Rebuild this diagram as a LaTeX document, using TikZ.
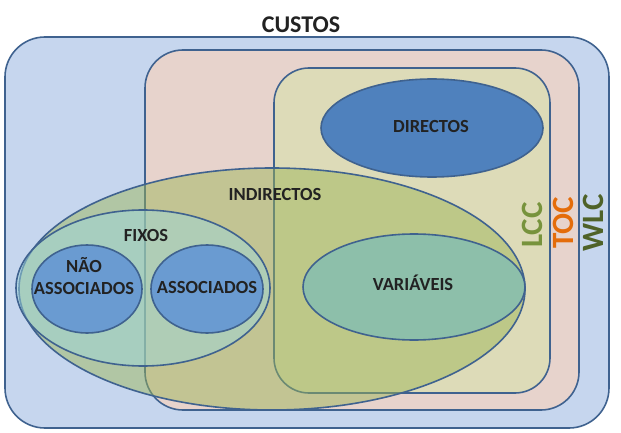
\documentclass[tikz,border=0pt]{standalone}
\usepackage{fontspec}
\setmainfont{Carlito}
\usetikzlibrary{shapes.geometric}

\definecolor{edge}{HTML}{3F628F}
\definecolor{wlcfill}{HTML}{C6D6EE}
\definecolor{tocfill}{HTML}{E7D3CC}
\definecolor{lccfill}{HTML}{DDDBB8}
\definecolor{dirfill}{HTML}{4F81BD}
\definecolor{indfill}{HTML}{9BB555}
\definecolor{fixfill}{HTML}{9ED6DA}
\definecolor{assfill}{HTML}{6A9BD1}
\definecolor{varfill}{HTML}{8DBFAA}
\definecolor{lcctext}{HTML}{77933C}
\definecolor{toctext}{HTML}{E46C0A}
\definecolor{wlctext}{HTML}{4F6228}
\definecolor{txt}{HTML}{222222}

\begin{document}
\begin{tikzpicture}[
    x=1pt, y=-1pt,
    zone/.style={rectangle, draw=edge, line width=1.6pt, inner sep=0pt},
    blob/.style={ellipse, draw=edge, line width=1.6pt, inner sep=0pt},
    lbl/.style={anchor=base, align=center, text=txt,
                font=\bfseries\fontsize{18.5}{22}\selectfont},
    side/.style={rotate=90, font=\bfseries\fontsize{31}{31}\selectfont}
]
    \useasboundingbox (0,0) rectangle (621,433);

    % nested cost scopes
    \node[zone, rounded corners=40pt, fill=wlcfill, minimum width=604pt, minimum height=391pt] (wlc) at (307,232.5) {};
    \node[zone, rounded corners=38pt, fill=tocfill, minimum width=434pt, minimum height=360pt] (toc) at (362,230) {};
    \node[zone, rounded corners=35pt, fill=lccfill, minimum width=276pt, minimum height=325pt] (lcc) at (412,230.5) {};

    % cost types
    \node[blob, fill=dirfill, minimum width=222pt, minimum height=98pt] (dir) at (432,128) {};
    \node[blob, fill=indfill, fill opacity=0.48, minimum width=506pt, minimum height=242pt] (ind) at (272,289) {};
    \node[blob, fill=fixfill, fill opacity=0.5, minimum width=254pt, minimum height=156pt] (fix) at (143,288) {};
    \node[blob, fill=assfill, minimum width=110pt, minimum height=88pt] (nass) at (87,289) {};
    \node[blob, fill=assfill, minimum width=112pt, minimum height=88pt] (ass) at (207,289) {};
    \node[blob, fill=varfill, minimum width=222pt, minimum height=106pt] (var) at (414,287) {};

    % labels
    \node[lbl, font=\bfseries\fontsize{24}{26}\selectfont] (custos) at (301,33) {CUSTOS};
    \node[lbl] (tdir) at (431,132) {DIRECTOS};
    \node[lbl] (tind) at (275,200) {INDIRECTOS};
    \node[lbl] (tfix) at (146,241) {FIXOS};
    \node[lbl] (tnass) at (84,294) {NÃO\\ASSOCIADOS};
    \node[lbl] (tass) at (207,293) {ASSOCIADOS};
    \node[lbl] (tvar) at (413,290) {VARIÁVEIS};

    \node[side, text=lcctext] (tlcc) at (532,225) {LCC};
    \node[side, text=toctext] (ttoc) at (563,223) {TOC};
    \node[side, text=wlctext] (twlc) at (593,223) {WLC};
\end{tikzpicture}
\end{document}
